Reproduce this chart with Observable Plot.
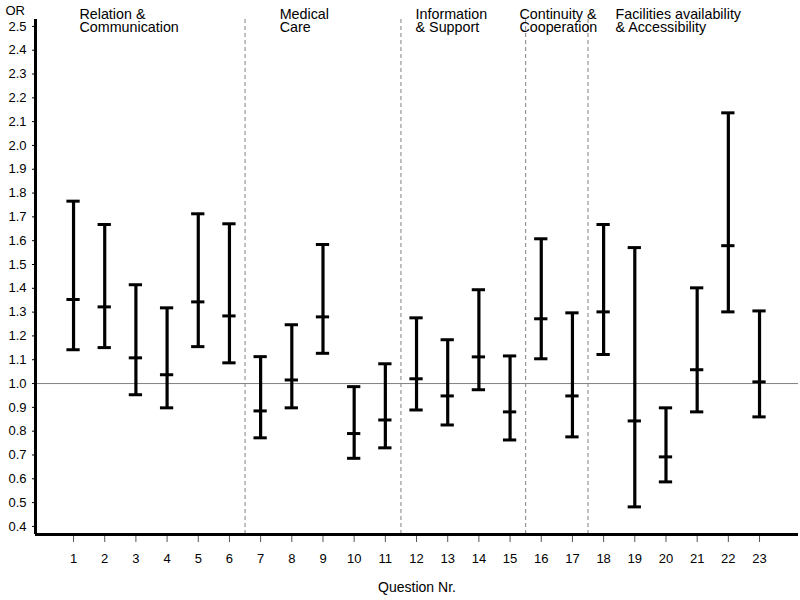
<!DOCTYPE html>
<html>
<head>
<meta charset="utf-8">
<script src="https://cdn.jsdelivr.net/npm/d3@7"></script>
<script src="https://cdn.jsdelivr.net/npm/@observablehq/plot@0.6"></script>
<style>
  html, body { margin: 0; padding: 0; background: #fff; }
  #chart svg { display: block; }
</style>
</head>
<body>
<div id="chart"></div>
<script>
const questions = [1, 2, 3, 4, 5, 6, 7, 8, 9, 10, 11, 12, 13, 14, 15, 16, 17, 18, 19, 20, 21, 22, 23];
const orValues = [1.353, 1.322, 1.108, 1.037, 1.343, 1.284, 0.885, 1.015, 1.280, 0.790, 0.847, 1.020, 0.948, 1.112, 0.881, 1.272, 0.948, 1.301, 0.843, 0.692, 1.058, 1.579, 1.007];
const lowerCI = [1.142, 1.151, 0.953, 0.898, 1.155, 1.087, 0.772, 0.898, 1.127, 0.686, 0.730, 0.889, 0.826, 0.974, 0.763, 1.104, 0.776, 1.122, 0.482, 0.587, 0.881, 1.301, 0.860];
const upperCI = [1.766, 1.668, 1.415, 1.318, 1.713, 1.671, 1.113, 1.247, 1.584, 0.987, 1.083, 1.276, 1.184, 1.394, 1.116, 1.608, 1.297, 1.668, 1.571, 0.898, 1.402, 2.137, 1.305];
const groupNames = ["Relation &\nCommunication", "Medical\nCare", "Information\n& Support", "Continuity &\nCooperation", "Facilities availability\n& Accessibility"];
const groupLabelAt = [1.19, 7.61, 11.97, 15.30, 18.38];
const groupBounds = [6.5, 11.5, 15.5, 17.5];
const yTickValues = [0.4, 0.5, 0.6, 0.7, 0.8, 0.9, 1.0, 1.1, 1.2, 1.3, 1.4, 1.5, 1.6, 1.7, 1.8, 1.9, 2.0, 2.1, 2.2, 2.3, 2.4, 2.5];
const yTitle = "OR";
const xTitle = "Question Nr.";

const rows = questions.map((q, i) => ({q, or: orValues[i], lo: lowerCI[i], hi: upperCI[i]}));
const groups = groupNames.map((name, i) => ({name, x: groupLabelAt[i]}));
const capHalf = 0.213;
const font = "'Liberation Sans', Arial, sans-serif";

const xDomain = [-0.22, 24.25];
const yDomain = [0.366, 2.529];

const chart = Plot.plot({
  width: 800,
  height: 600,
  marginLeft: 35,
  marginRight: 2,
  marginTop: 19,
  marginBottom: 66,
  style: {fontFamily: font, fontSize: "13px", color: "#000", background: "#fff"},
  x: {domain: xDomain},
  y: {domain: yDomain},
  marks: [
    Plot.ruleY([1], {stroke: "#808080", strokeWidth: 1}),
    Plot.ruleX(groupBounds, {stroke: "#808080", strokeWidth: 1, strokeDasharray: "4,3"}),
    Plot.axisY({ticks: yTickValues, tickFormat: d3.format(".1f"), tickSize: 3, tickPadding: 6, label: null, fontSize: 13}),
    Plot.axisX({ticks: questions, tickFormat: d => String(d), tickSize: 8, tickPadding: 11, stroke: "#555", label: null, fontSize: 13}),
    Plot.ruleX([xDomain[0]], {stroke: "#000", strokeWidth: 3, y1: yDomain[0], y2: yDomain[1]}),
    Plot.ruleY([yDomain[0]], {stroke: "#000", strokeWidth: 3, x1: xDomain[0], x2: xDomain[1]}),
    Plot.ruleX(rows, {x: "q", y1: "lo", y2: "hi", stroke: "#000", strokeWidth: 3.2}),
    Plot.ruleY(rows, {y: "hi", x1: d => d.q - capHalf, x2: d => d.q + capHalf, stroke: "#000", strokeWidth: 3}),
    Plot.ruleY(rows, {y: "or", x1: d => d.q - capHalf, x2: d => d.q + capHalf, stroke: "#000", strokeWidth: 3}),
    Plot.ruleY(rows, {y: "lo", x1: d => d.q - capHalf, x2: d => d.q + capHalf, stroke: "#000", strokeWidth: 3}),
    Plot.text(groups, {x: "x", text: "name", frameAnchor: "top", textAnchor: "start", lineAnchor: "top", lineHeight: 0.86, dy: -9, fontSize: 14.3, fill: "#000"}),
    Plot.text([yTitle], {frameAnchor: "top-left", textAnchor: "start", lineAnchor: "bottom", dx: -30, dy: -5, fontSize: 13, fill: "#000"}),
    Plot.text([xTitle], {frameAnchor: "bottom", lineAnchor: "bottom", dy: 57, fontSize: 14, fill: "#000"})
  ]
});
document.getElementById("chart").appendChild(chart);
</script>
</body>
</html>
